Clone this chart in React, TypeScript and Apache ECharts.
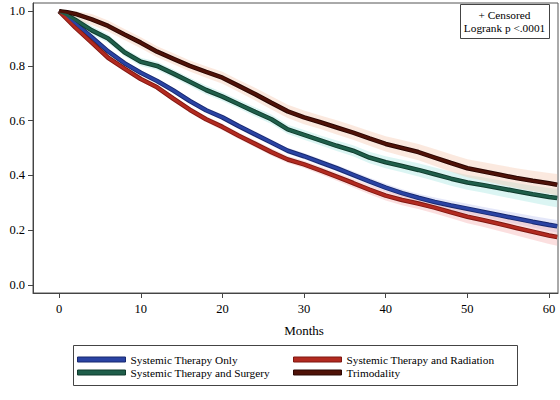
import React, { useEffect, useRef } from "react";
import * as echarts from "echarts";

const months = [0, 1, 2, 4, 6, 8, 10, 12, 14, 16, 18, 20, 22, 24, 26, 28, 30, 32, 34, 36, 38, 40, 42, 44, 46, 48, 50, 52, 54, 56, 58, 60, 61];

const survOnly = [1.0, 0.98, 0.955, 0.905, 0.853, 0.81, 0.775, 0.745, 0.71, 0.672, 0.638, 0.612, 0.58, 0.55, 0.52, 0.49, 0.47, 0.448, 0.426, 0.402, 0.378, 0.355, 0.335, 0.318, 0.303, 0.29, 0.278, 0.266, 0.254, 0.242, 0.23, 0.219, 0.214];
const survSurgery = [1.0, 0.985, 0.968, 0.93, 0.9, 0.85, 0.815, 0.8, 0.772, 0.742, 0.712, 0.688, 0.66, 0.632, 0.605, 0.568, 0.548, 0.528, 0.508, 0.49, 0.465, 0.448, 0.434, 0.42, 0.404, 0.388, 0.374, 0.364, 0.353, 0.342, 0.331, 0.321, 0.317];
const survRadiation = [1.0, 0.97, 0.94, 0.885, 0.83, 0.79, 0.752, 0.722, 0.68, 0.64, 0.605, 0.577, 0.545, 0.515, 0.485, 0.458, 0.44, 0.418, 0.395, 0.372, 0.348, 0.326, 0.31, 0.297, 0.282, 0.265, 0.249, 0.236, 0.222, 0.208, 0.194, 0.18, 0.175];
const survTrimodality = [1.0, 0.996, 0.99, 0.97, 0.946, 0.915, 0.885, 0.852, 0.826, 0.8, 0.778, 0.757, 0.727, 0.697, 0.665, 0.634, 0.612, 0.594, 0.575, 0.556, 0.535, 0.515, 0.5, 0.485, 0.465, 0.445, 0.426, 0.414, 0.402, 0.39, 0.38, 0.371, 0.366];

// confidence band half-widths
const ciOnly = [0, 0.006, 0.007, 0.008, 0.008, 0.009, 0.009, 0.009, 0.01, 0.01, 0.01, 0.01, 0.01, 0.011, 0.011, 0.011, 0.012, 0.012, 0.012, 0.013, 0.013, 0.014, 0.014, 0.015, 0.016, 0.017, 0.018, 0.018, 0.019, 0.02, 0.021, 0.022, 0.023];
const ciSurgery = [0, 0.02, 0.018, 0.016, 0.015, 0.015, 0.015, 0.015, 0.015, 0.015, 0.016, 0.016, 0.016, 0.017, 0.017, 0.017, 0.018, 0.018, 0.019, 0.02, 0.021, 0.022, 0.023, 0.024, 0.025, 0.026, 0.027, 0.028, 0.029, 0.03, 0.031, 0.033, 0.034];
const ciRadiation = [0, 0.008, 0.008, 0.009, 0.009, 0.01, 0.01, 0.01, 0.011, 0.011, 0.011, 0.012, 0.012, 0.012, 0.013, 0.013, 0.013, 0.014, 0.015, 0.016, 0.017, 0.018, 0.019, 0.02, 0.021, 0.022, 0.024, 0.025, 0.026, 0.028, 0.029, 0.031, 0.032];
const ciTrimodality = [0, 0.03, 0.025, 0.02, 0.02, 0.02, 0.02, 0.02, 0.02, 0.02, 0.021, 0.022, 0.022, 0.023, 0.024, 0.024, 0.025, 0.025, 0.026, 0.026, 0.027, 0.028, 0.029, 0.03, 0.031, 0.032, 0.033, 0.034, 0.035, 0.036, 0.037, 0.038, 0.039];

const xTicks = [0, 10, 20, 30, 40, 50, 60];
const yTicks = [0, 0.2, 0.4, 0.6, 0.8, 1.0];

const FONT = "'Liberation Serif', 'Times New Roman', serif";

const groups = [
  { name: "Systemic Therapy Only", surv: survOnly, ci: ciOnly, color: "#2a43a3", edge: "#17286e", band: "rgba(190,198,240,0.42)" },
  { name: "Systemic Therapy and Radiation", surv: survRadiation, ci: ciRadiation, color: "#b22a20", edge: "#7e1710", band: "rgba(246,178,178,0.42)" },
  { name: "Systemic Therapy and Surgery", surv: survSurgery, ci: ciSurgery, color: "#1f5e4a", edge: "#0f3a2c", band: "rgba(170,232,226,0.42)" },
  { name: "Trimodality", surv: survTrimodality, ci: ciTrimodality, color: "#4f1208", edge: "#2a0602", band: "rgba(244,196,170,0.38)" },
];

function buildOption() {
  const series: any[] = [];
  groups.forEach((g, gi) => {
    series.push({
      type: "custom",
      name: "band-" + gi,
      silent: true,
      z: 1,
      data: [0],
      renderItem: (params: any, api: any) => {
        const upper = months.map((m, i) => api.coord([m, Math.min(1, g.surv[i] + g.ci[i])]));
        const lower = months.map((m, i) => api.coord([m, Math.max(0, g.surv[i] - g.ci[i])])).reverse();
        return {
          type: "polygon",
          shape: { points: upper.concat(lower) },
          style: { fill: g.band, stroke: "none" },
        };
      },
    });
  });
  groups.forEach((g, gi) => {
    const pts = months.map((m, i) => [m, g.surv[i]]);
    series.push({
      type: "line", name: "edge-" + gi, data: pts, symbol: "none",
      lineStyle: { width: 4.6, color: g.edge }, silent: true, z: 3,
    });
    series.push({
      type: "line", name: g.name, data: pts, symbol: "none",
      lineStyle: { width: 2.8, color: g.color }, itemStyle: { color: g.color }, z: 4,
    });
  });

  const legendText = { fontFamily: FONT, fontSize: 11.3, color: "#000" };
  const legendItem = (g: any) => ({ name: g.name, itemStyle: { color: g.color, borderColor: g.edge, borderWidth: 1 } });

  return {
    animation: false,
    grid: { left: 33, right: 2, top: 3, bottom: 107, show: true, borderColor: "#555", borderWidth: 1, containLabel: false },
    xAxis: {
      type: "value", min: -3.2, max: 61.1,
      axisLine: { show: true, onZero: false, lineStyle: { color: "#444" } },
      axisTick: { show: true, length: 5, customValues: xTicks, lineStyle: { color: "#444" } },
      axisLabel: { customValues: xTicks, margin: 9, fontFamily: FONT, fontSize: 12.5, color: "#000" },
      splitLine: { show: false },
    },
    yAxis: {
      type: "value", min: -0.03, max: 1.03,
      axisLine: { show: true, onZero: false, lineStyle: { color: "#444" } },
      axisTick: { show: true, length: 5, customValues: yTicks, lineStyle: { color: "#444" } },
      axisLabel: { customValues: yTicks, margin: 8, fontFamily: FONT, fontSize: 12.5, color: "#000", formatter: (v: number) => v.toFixed(1) },
      splitLine: { show: false },
    },
    legend: [
      {
        left: 77, top: 354, padding: 0, orient: "vertical", icon: "rect", itemWidth: 48, itemHeight: 5, itemGap: 2,
        textStyle: legendText, selectedMode: false,
        data: [legendItem(groups[0]), legendItem(groups[2])],
      },
      {
        left: 293, top: 354, padding: 0, orient: "vertical", icon: "rect", itemWidth: 48, itemHeight: 5, itemGap: 2,
        textStyle: legendText, selectedMode: false,
        data: [legendItem(groups[1]), legendItem(groups[3])],
      },
    ],
    graphic: [
      { type: "rect", shape: { x: 73.5, y: 345.5, width: 444, height: 40 }, style: { fill: "none", stroke: "#444", lineWidth: 1 }, z: 10 },
      { type: "rect", shape: { x: 460.5, y: 4.5, width: 89, height: 34 }, style: { fill: "#fff", stroke: "#444", lineWidth: 1 }, z: 10 },
      { type: "text", x: 504.5, y: 14.5, style: { text: "+ Censored", fontFamily: FONT, fontSize: 11.3, fill: "#000", align: "center", verticalAlign: "middle" }, z: 11 },
      { type: "text", x: 504.5, y: 28, style: { text: "Logrank p <.0001", fontFamily: FONT, fontSize: 11.3, fill: "#000", align: "center", verticalAlign: "middle" }, z: 11 },
      { type: "text", x: 304, y: 330, style: { text: "Months", fontFamily: FONT, fontSize: 13, fill: "#000", align: "center", verticalAlign: "middle" }, z: 11 },
    ],
    series,
  };
}

export default function App() {
  const ref = useRef<HTMLDivElement>(null);
  useEffect(() => {
    if (!ref.current) return;
    const chart = echarts.init(ref.current, undefined, { renderer: "svg" });
    chart.setOption(buildOption() as any);
    return () => chart.dispose();
  }, []);
  return <div ref={ref} style={{ position: "fixed", left: 0, top: 0, width: 560, height: 400, background: "#fff" }} />;
}
